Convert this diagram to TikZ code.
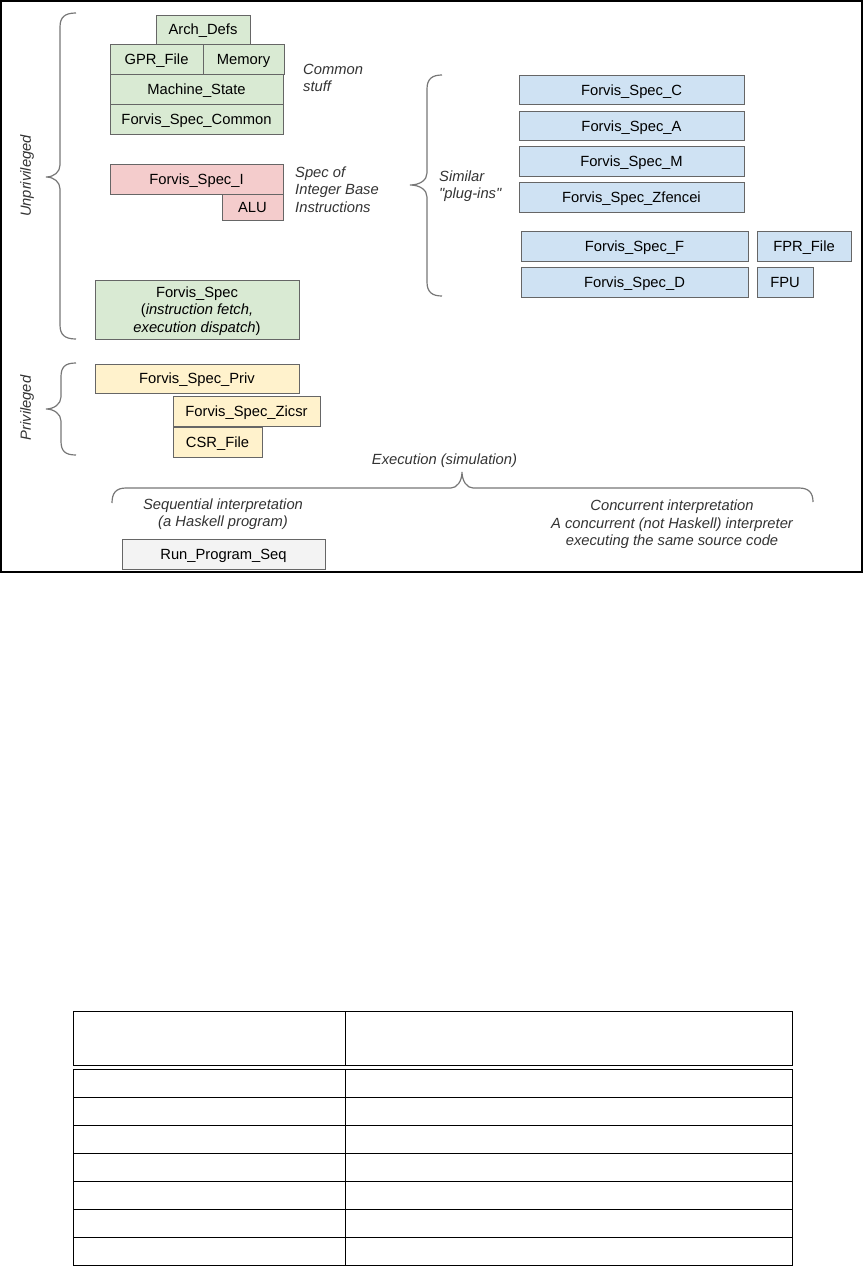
\documentclass[tikz,border=0pt]{standalone}
\usepackage{fontspec}
\setmainfont{Liberation Sans}
\definecolor{boxGreen}{HTML}{D9EAD3}
\definecolor{boxRed}{HTML}{F4CCCC}
\definecolor{boxBlue}{HTML}{CFE2F3}
\definecolor{boxYellow}{HTML}{FFF2CC}
\definecolor{boxGray}{HTML}{F3F3F3}
\definecolor{boxBorder}{HTML}{666666}
\definecolor{braceGray}{HTML}{777777}
\definecolor{noteGray}{HTML}{333333}

\begin{document}
\begin{tikzpicture}[x = 1pt, y = -1pt, font = \fontsize{14.75}{17.5}\selectfont]
\tikzset{
  block/.style = {draw = boxBorder, line width = 1pt, rectangle, inner sep = 0pt, minimum height = 30pt,
    align = center, text height = 10.6pt, text depth = 0pt},
  greenBlock/.style = {block, fill = boxGreen},
  redBlock/.style = {block, fill = boxRed},
  blueBlock/.style = {block, fill = boxBlue},
  yellowBlock/.style = {block, fill = boxYellow},
  grayBlock/.style = {block, fill = boxGray},
  note/.style = {font = \fontsize{14.75}{17.5}\selectfont\itshape, text = noteGray, inner sep = 0pt},
  curly/.style = {draw = braceGray, line width = 1.2pt},
}
\useasboundingbox (0,0) rectangle (865,1266);
\draw [line width = 1.5pt] (1,1) rectangle (862,572);

% common stuff
\node [greenBlock, minimum width = 94pt, minimum height = 29pt] (archDefs) at (203,29.5) {Arch\_Defs};
\node [greenBlock, minimum width = 93pt, minimum height = 29.5pt] (gprFile) at (156.5,59.5) {GPR\_File};
\node [greenBlock, minimum width = 81pt, minimum height = 29.5pt] (memory) at (243.5,59.5) {Memory};
\node [greenBlock, minimum width = 173pt, minimum height = 29.5pt] (machineState) at (196.5,89.5) {Machine\_State};
\node [greenBlock, minimum width = 173pt, below of = machineState, node distance = 29.75pt] (specCommon) {Forvis\_Spec\_Common};
\node [note, anchor = west, align = left] (commonNote) at (303,78) {Common\\stuff};

% integer base
\node [redBlock, minimum width = 173pt] (specI) at (196.5,179) {Forvis\_Spec\_I};
\node [redBlock, minimum width = 61pt, minimum height = 26pt] (alu) at (252.5,207) {ALU};
\node [note, anchor = west, align = left] (integerNote) at (295,189.5) {Spec of\\Integer Base\\Instructions};

\node [greenBlock, minimum width = 204pt, minimum height = 59pt, text height = {}, text depth = -3pt] (forvisSpec) at (197,309.5)
  {Forvis\_Spec\\(\textit{instruction fetch,}\\\textit{execution dispatch})};

% privileged
\node [yellowBlock, minimum width = 204pt, minimum height = 29pt] (specPriv) at (197,378.5) {Forvis\_Spec\_Priv};
\node [yellowBlock, minimum width = 147pt] (specZicsr) at (246.5,411) {Forvis\_Spec\_Zicsr};
\node [yellowBlock, minimum width = 89pt, below of = specZicsr, node distance = 31pt, xshift = -29pt] (csrFile) {CSR\_File};

% plug-ins
\node [blueBlock, minimum width = 225pt, minimum height = 29.5pt] (specC) at (631.5,90) {Forvis\_Spec\_C};
\node [blueBlock, minimum width = 225pt, minimum height = 29.5pt, below of = specC, node distance = 35.8pt] (specA) {Forvis\_Spec\_A};
\node [blueBlock, minimum width = 225pt, minimum height = 29.5pt, below of = specA, node distance = 35.8pt] (specM) {Forvis\_Spec\_M};
\node [blueBlock, minimum width = 225pt, minimum height = 29.5pt, below of = specM, node distance = 35.8pt] (specZfencei) {Forvis\_Spec\_Zfencei};
\node [blueBlock, minimum width = 227pt] (specF) at (634.5,246) {Forvis\_Spec\_F};
\node [blueBlock, minimum width = 227pt, below of = specF, node distance = 36pt] (specD) {Forvis\_Spec\_D};
\node [blueBlock, minimum width = 94pt] (fprFile) at (804,246) {FPR\_File};
\node [blueBlock, minimum width = 56pt] (fpu) at (785,282) {FPU};
\node [note, anchor = west, align = left] (pluginNote) at (439,186) {Similar\\\textquotedbl plug-ins\textquotedbl};

% execution
\node [note, align = center] (execNote) at (444.5,461) {Execution (simulation)};
\node [note, align = center] (seqNote) at (223,514) {Sequential interpretation\\(a Haskell program)};
\node [note, align = center] (concNote) at (672,524.5) {Concurrent interpretation\\A concurrent (not Haskell) interpreter\\executing the same source code};
\node [grayBlock, minimum width = 203pt] (runSeq) at (223.5,554) {Run\_Program\_Seq};

\node [note, rotate = 90] (unprivNote) at (27,176) {Unprivileged};
\node [note, rotate = 90] (privNote) at (27,408) {Privileged};

% braces
\draw [curly] (76,13) .. controls (65,13) and (60,17) .. (60,27) -- (60,165)
  .. controls (60,172) and (54,177) .. (46,177) .. controls (54,177) and (60,182) .. (60,189)
  -- (60,325) .. controls (60,335) and (65,339) .. (76,339);
\draw [curly] (76,363) .. controls (65,363) and (61,367) .. (61,377) -- (61,397)
  .. controls (61,404) and (54,409) .. (46,409) .. controls (54,409) and (61,414) .. (61,421)
  -- (61,441) .. controls (61,451) and (65,455) .. (76,455);
\draw [curly] (442,75) .. controls (432,75) and (427,79) .. (427,89) -- (427,173)
  .. controls (427,180) and (420,185) .. (410,185) .. controls (420,185) and (427,190) .. (427,197)
  -- (427,282) .. controls (427,292) and (432,296) .. (442,296);
\draw [curly] (112,503) .. controls (112,493) and (116,488) .. (126,488) -- (451,488)
  .. controls (457,488) and (462,481) .. (462,472) .. controls (462,481) and (467,488) .. (473,488)
  -- (799,488) .. controls (809,488) and (813,493) .. (813,502);

% table
\draw [line width = 1pt] (73,1011) rectangle (792,1065);
\draw [line width = 1pt] (345,1011) -- (345,1065);
\draw [line width = 1pt] (73,1069) rectangle (792,1265);
\draw [line width = 1pt] (345,1069) -- (345,1265);
\foreach \y in {1097, 1125, 1153, 1181, 1209, 1237}
  \draw [line width = 1pt] (73,\y) -- (792,\y);
\end{tikzpicture}
\end{document}
